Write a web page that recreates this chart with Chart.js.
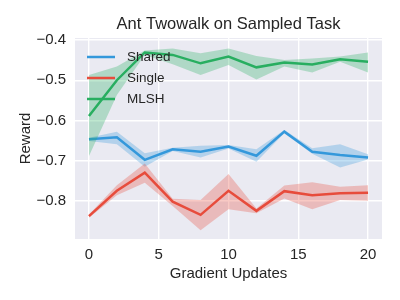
<!DOCTYPE html>
<html>
<head>
<meta charset="utf-8">
<script src="https://cdn.jsdelivr.net/npm/chart.js@4.4.1/dist/chart.umd.min.js"></script>
<style>
  html, body { margin: 0; padding: 0; background: #fff; }
</style>
</head>
<body>
<canvas id="chart" width="400" height="300"></canvas>
<script>
// data
var steps = [0, 2, 4, 6, 8, 10, 12, 14, 16, 18, 20];

var sharedMean = [-0.647, -0.642, -0.698, -0.672, -0.678, -0.665, -0.688, -0.628, -0.678, -0.686, -0.692];
var sharedLow  = [-0.651, -0.659, -0.715, -0.676, -0.692, -0.670, -0.703, -0.632, -0.683, -0.717, -0.697];
var sharedHigh = [-0.643, -0.628, -0.682, -0.668, -0.663, -0.661, -0.672, -0.624, -0.669, -0.659, -0.684];

var singleMean = [-0.838, -0.775, -0.730, -0.802, -0.835, -0.775, -0.825, -0.776, -0.786, -0.781, -0.780];
var singleLow  = [-0.842, -0.786, -0.755, -0.813, -0.873, -0.821, -0.831, -0.794, -0.821, -0.798, -0.800];
var singleHigh = [-0.834, -0.761, -0.707, -0.795, -0.798, -0.733, -0.819, -0.762, -0.754, -0.765, -0.761];

var mlshMean = [-0.589, -0.500, -0.431, -0.437, -0.458, -0.441, -0.468, -0.456, -0.461, -0.448, -0.454];
var mlshLow  = [-0.689, -0.537, -0.437, -0.460, -0.487, -0.462, -0.498, -0.466, -0.481, -0.454, -0.481];
var mlshHigh = [-0.487, -0.466, -0.426, -0.421, -0.433, -0.421, -0.440, -0.450, -0.446, -0.441, -0.431];

var seriesNames = ['Shared', 'Single', 'MLSH'];
var seriesColors = ['#3498db', '#e74c3c', '#28ae60'];
var bandColors = ['rgba(52,152,219,0.3)', 'rgba(231,76,60,0.3)', 'rgba(40,174,96,0.3)'];

var xTicks = [0, 5, 10, 15, 20];
var yTicks = [-0.8, -0.7, -0.6, -0.5, -0.4];

var titleText = 'Ant Twowalk on Sampled Task';

function pts(ys) {
    return steps.map(function (x, i) { return {x: x, y: ys[i]}; });
}

var FONT = '"Liberation Sans", Arial, sans-serif';

var datasets = [];
var means = [sharedMean, singleMean, mlshMean];
var lows = [sharedLow, singleLow, mlshLow];
var highs = [sharedHigh, singleHigh, mlshHigh];
for (var s = 0; s < 3; s++) {
    var ord = (3 - s) * 2;
    datasets.push({ label: seriesNames[s] + ' low', data: pts(lows[s]), borderWidth: 0,
        pointRadius: 0, fill: false, order: ord, borderColor: 'rgba(0,0,0,0)' });
    datasets.push({ label: seriesNames[s] + ' high', data: pts(highs[s]), borderWidth: 0,
        pointRadius: 0, fill: '-1', backgroundColor: bandColors[s], order: ord,
        borderColor: 'rgba(0,0,0,0)' });
    datasets.push({ label: seriesNames[s], data: pts(means[s]), borderColor: seriesColors[s],
        borderWidth: 2.5, pointRadius: 0, fill: false, order: ord - 1 });
}

// gray panel behind the plot
var panelBg = {
    id: 'panelBg',
    beforeDraw: function (chart) {
        var a = chart.chartArea, ctx = chart.ctx;
        ctx.save();
        ctx.fillStyle = '#eaeaf2';
        ctx.fillRect(a.left, a.top, a.right - a.left, a.bottom - a.top);
        ctx.restore();
    }
};

// title centred over the plot area + frameless legend inside the plot
var extras = {
    id: 'extras',
    afterDatasetsDraw: function (chart) {
        var ctx = chart.ctx, a = chart.chartArea;
        ctx.save();
        ctx.fillStyle = '#262626';
        ctx.font = '16.5px ' + FONT;
        ctx.textAlign = 'center';
        ctx.textBaseline = 'middle';
        ctx.fillText(titleText, (a.left + a.right) / 2, 24);

        ctx.font = '13.5px ' + FONT;
        ctx.textAlign = 'left';
        for (var i = 0; i < seriesNames.length; i++) {
            var y = 57 + i * 21;
            ctx.strokeStyle = seriesColors[i];
            ctx.lineWidth = 2.5;
            ctx.beginPath();
            ctx.moveTo(87, y);
            ctx.lineTo(115, y);
            ctx.stroke();
            ctx.fillText(seriesNames[i], 127, y);
        }
        ctx.restore();
    }
};

var ctx = document.getElementById('chart');
var chart = new Chart(ctx, {
    type: 'line',
    data: { datasets: datasets },
    plugins: [panelBg, extras],
    options: {
        responsive: false,
        animation: false,
        layout: { padding: { left: 0, right: 18, top: 38, bottom: 0 } },
        plugins: {
            legend: { display: false },
            tooltip: { enabled: false },
            title: { display: false },
            filler: { propagate: false }
        },
        scales: {
            x: {
                type: 'linear',
                min: -1,
                max: 21,
                afterFit: function (scale) { scale.height = 61; },
                afterBuildTicks: function (scale) {
                    scale.ticks = xTicks.map(function (v) { return {value: v}; });
                },
                grid: { color: '#ffffff', lineWidth: 1.4, drawTicks: false },
                border: { display: false },
                ticks: {
                    padding: 7,
                    color: '#262626',
                    font: { family: FONT, size: 15 },
                    callback: function (v) { return String(v); }
                },
                title: {
                    display: true,
                    text: 'Gradient Updates',
                    color: '#262626',
                    font: { family: FONT, size: 15 },
                    padding: { top: 0, bottom: 17 }
                }
            },
            y: {
                type: 'linear',
                min: -0.895,
                max: -0.395,
                afterFit: function (scale) { scale.width = 75; },
                afterBuildTicks: function (scale) {
                    scale.ticks = yTicks.map(function (v) { return {value: v}; });
                },
                grid: { color: '#ffffff', lineWidth: 1.4, drawTicks: false },
                border: { display: false },
                ticks: {
                    padding: 9,
                    color: '#262626',
                    font: { family: FONT, size: 15 },
                    callback: function (v) {
                        return '\u2212' + Math.abs(v).toFixed(1);
                    }
                },
                title: {
                    display: true,
                    text: 'Reward',
                    color: '#262626',
                    font: { family: FONT, size: 15 },
                    padding: { top: 17, bottom: 0 }
                }
            }
        }
    }
});
</script>
</body>
</html>
